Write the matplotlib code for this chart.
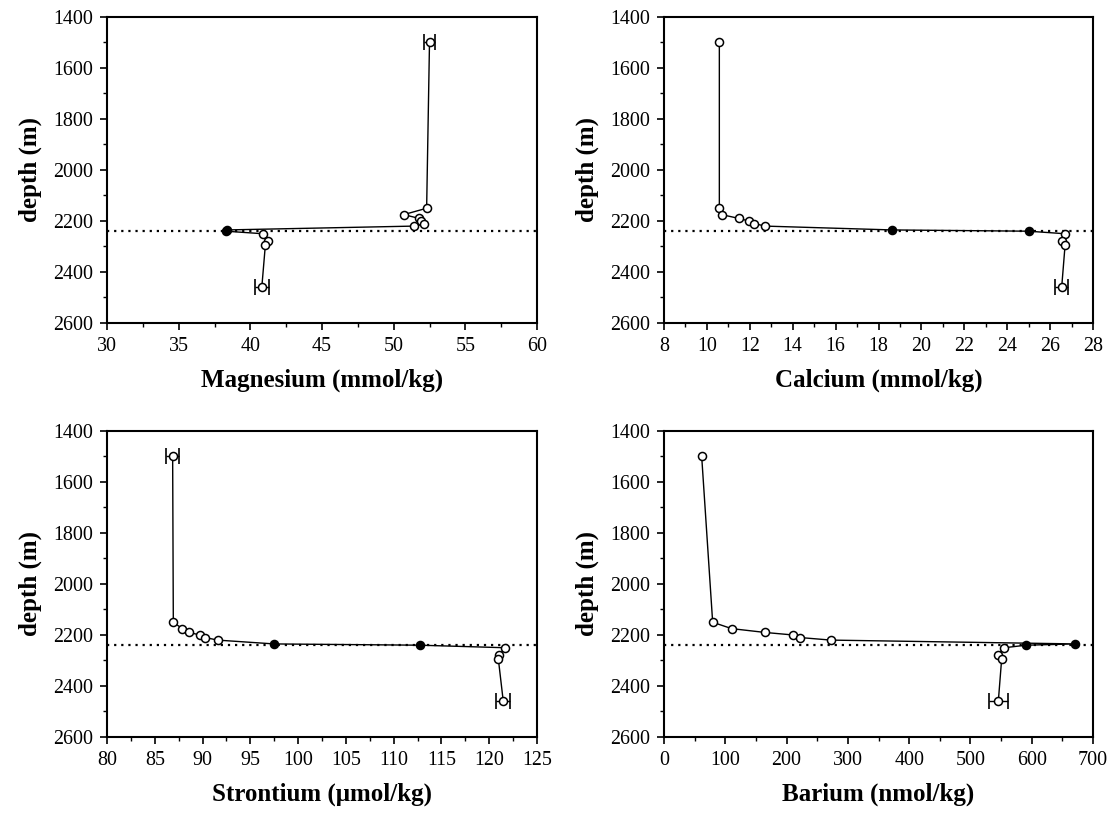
import matplotlib
matplotlib.use("Agg")
import matplotlib.pyplot as plt
from matplotlib.ticker import MultipleLocator
import numpy as np

# Sample depths (m) shared by all four profiles
depth = [1500, 2150, 2175, 2190, 2200, 2210, 2220, 2235, 2240, 2250, 2278, 2293, 2460]
# Samples taken inside the interface layer (filled symbols)
filled = [False, False, False, False, False, False, False, True, True, False, False, False, False]
interface_depth = 2240

magnesium = [52.5, 52.3, 50.7, 51.8, 51.9, 52.1, 51.4, 38.4, 38.3, 40.9, 41.25, 41.05, 40.8]
magnesium_err = [0.37, 0, 0, 0, 0, 0, 0, 0, 0, 0, 0, 0, 0.5]

calcium = [10.58, 10.58, 10.69, 11.5, 11.95, 12.2, 12.72, 18.61, 25.0, 26.7, 26.54, 26.7, 26.54]
calcium_err = [0, 0, 0, 0, 0, 0, 0, 0, 0, 0, 0, 0, 0.3]

strontium = [86.87, 86.94, 87.88, 88.6, 89.73, 90.29, 91.58, 97.48, 112.76, 121.68, 121.06, 120.95, 121.47]
strontium_err = [0.66, 0, 0, 0, 0, 0, 0, 0, 0, 0, 0, 0, 0.75]

barium = [61.5, 79.4, 110.4, 164.8, 211.0, 222.0, 272.5, 670.6, 590.7, 555.0, 544.5, 551.0, 545.5]
barium_err = [0, 0, 0, 0, 0, 0, 0, 0, 0, 0, 0, 0, 15]

panels = [
    dict(values=magnesium, err=magnesium_err, label="Magnesium (mmol/kg)",
         xlim=(30, 60), major=5, minor=2.5),
    dict(values=calcium, err=calcium_err, label="Calcium (mmol/kg)",
         xlim=(8, 28), major=2, minor=1),
    dict(values=strontium, err=strontium_err, label="Strontium (\u03bcmol/kg)",
         xlim=(80, 125), major=5, minor=2.5),
    dict(values=barium, err=barium_err, label="Barium (nmol/kg)",
         xlim=(0, 700), major=100, minor=50),
]

plt.rcParams["font.family"] = ["Liberation Serif", "DejaVu Serif"]

fig = plt.figure(figsize=(11.15, 8.14), dpi=100)
W, H = 1115, 814
boxes = [(107, 17, 537, 323), (664, 17, 1093, 323),
         (107, 431, 537, 737), (664, 431, 1093, 737)]

for p, (x0, y0, x1, y1) in zip(panels, boxes):
    ax = fig.add_axes([x0 / W, 1 - y1 / H, (x1 - x0) / W, (y1 - y0) / H])
    v = np.array(p["values"])
    d = np.array(depth)
    e = np.array(p["err"])
    f = np.array(filled)

    ax.axhline(interface_depth, color="black", lw=1.6, ls=(0, (1, 2.2)), zorder=1)
    ax.plot(v, d, color="black", lw=1.0, zorder=2)

    has_err = e > 0
    ax.errorbar(v[has_err], d[has_err], xerr=e[has_err], fmt="none",
                ecolor="black", elinewidth=1.0, capsize=6, capthick=1.2, zorder=3)
    ax.plot(v[~f], d[~f], ls="none", marker="o", ms=5.8, mfc="white",
            mec="black", mew=1.1, zorder=4)
    ax.plot(v[f], d[f], ls="none", marker="o", ms=5.8, mfc="black",
            mec="black", mew=1.1, zorder=4)

    ax.set_xlim(*p["xlim"])
    ax.set_ylim(2600, 1400)
    ax.xaxis.set_major_locator(MultipleLocator(p["major"]))
    ax.xaxis.set_minor_locator(MultipleLocator(p["minor"]))
    ax.yaxis.set_major_locator(MultipleLocator(200))
    ax.yaxis.set_minor_locator(MultipleLocator(100))
    ax.tick_params(which="major", direction="out", length=5, width=1.2,
                   labelsize=14.4, pad=5)
    ax.tick_params(which="minor", direction="out", length=3, width=1.0)
    for s in ax.spines.values():
        s.set_linewidth(1.5)

    ax.set_xlabel(p["label"], fontsize=18, fontweight="bold", labelpad=9)
    ax.set_ylabel("depth (m)", fontsize=18, fontweight="bold", labelpad=8)

fig.savefig("out.png", dpi=100)
